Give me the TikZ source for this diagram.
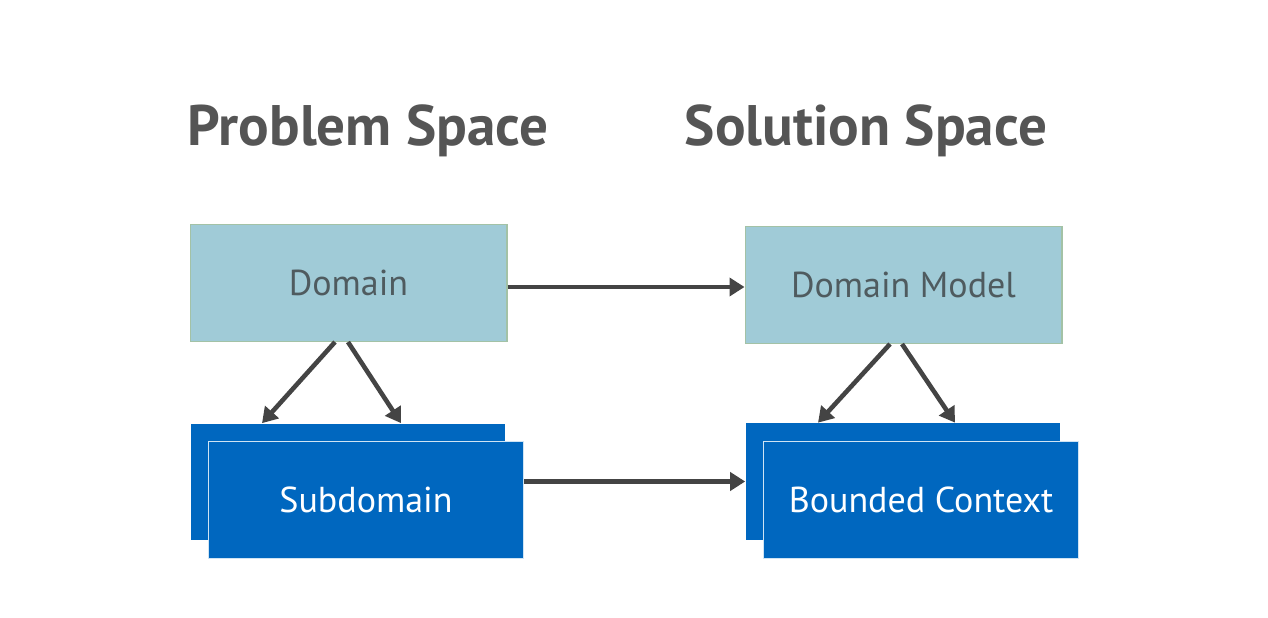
\documentclass[tikz,border=0pt]{standalone}
\usepackage{fontspec}
\setmainfont{PT Sans}
\usepackage{tikz}
\usetikzlibrary{arrows.meta}

\definecolor{lightbox}{HTML}{A0CBD7}
\definecolor{lightedge}{HTML}{A3C2A6}
\definecolor{darkbox}{HTML}{0067BF}
\definecolor{darkedge}{HTML}{CFE4F4}
\definecolor{titlegray}{HTML}{555555}
\definecolor{textgray}{HTML}{4F5B5F}
\definecolor{arrowgray}{HTML}{444444}

\begin{document}
\begin{tikzpicture}[x=0.02cm, y=-0.02cm]
    \tikzstyle{title} = [font=\fontsize{32.5}{38}\selectfont\bfseries, text=titlegray];
    \tikzstyle{lightblock} = [draw=lightedge, fill=lightbox, line width=0.6pt, rectangle, minimum width=6.34cm, minimum height=2.34cm, text=textgray, font=\fontsize{20.5}{24}\selectfont];
    \tikzstyle{darkblock} = [fill=darkbox, rectangle, minimum width=6.3cm, minimum height=2.34cm, text=white, font=\fontsize{20.5}{24}\selectfont];
    \tikzstyle{line} = [draw=arrowgray, line width=2.6pt, -{Triangle[length=0.3cm, width=0.36cm]}];
    \useasboundingbox[fill=white] (0,0) rectangle (1268,618);

    \node[title] (ptitle) at (368,131) {Problem Space};
    \node[title] (stitle) at (866,131) {Solution Space};

    \node[lightblock] (dom) at (348.5,283) {Domain};
    \node[lightblock] (dm) at (903.5,285) {Domain Model};

    \node[darkblock] (subb) at (348,482) {};
    \node[darkblock, draw=darkedge, line width=0.6pt] (subf) at (366,500) {Subdomain};
    \node[darkblock] (bcb) at (903,481.5) {};
    \node[darkblock, draw=darkedge, line width=0.6pt] (bcf) at (921,500) {Bounded Context};

    \tikzstyle{every path}=[line]
    \path ([yshift=-0.08cm]dom.east) -- ([yshift=-0.08cm]dom.east -| dm.west);
    \path (subf.east |- bcb.west) -- (bcb.west);
    \path ([xshift=-0.27cm]dom.south) -- ([xshift=-1.72cm]subb.north);
    \path ([xshift=-0.01cm]dom.south) -- ([xshift=1.06cm]subb.north);
    \path ([xshift=-0.27cm]dm.south) -- ([xshift=-1.7cm]bcb.north);
    \path ([xshift=-0.03cm]dm.south) -- ([xshift=1.04cm]bcb.north);
\end{tikzpicture}
\end{document}
